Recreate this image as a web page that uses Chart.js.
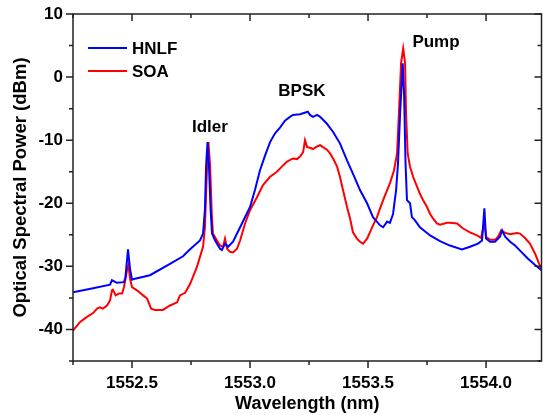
<!DOCTYPE html>
<html>
<head>
<meta charset="utf-8">
<script src="https://cdn.jsdelivr.net/npm/chart.js@4/dist/chart.umd.min.js"></script>
<style>
  html, body { margin: 0; padding: 0; background: #fff; }
  #wrap { width: 543px; height: 415px; }
</style>
</head>
<body>
<div id="wrap"><canvas id="chart" width="543" height="415"></canvas></div>
<script>
// wavelength (nm) / power (dBm)
const hnlfWavelength = [
  1552.250, 1552.330, 1552.407, 1552.415, 1552.436, 1552.466, 1552.472, 1552.483, 1552.492, 1552.500,
  1552.508, 1552.576, 1552.661, 1552.716, 1552.746, 1552.788, 1552.801, 1552.809, 1552.814, 1552.820,
  1552.826, 1552.833, 1552.839, 1552.852, 1552.873, 1552.881, 1552.894, 1552.907, 1552.928, 1552.958,
  1553.000, 1553.021, 1553.042, 1553.064, 1553.085, 1553.106, 1553.127, 1553.148, 1553.169, 1553.182,
  1553.212, 1553.245, 1553.254, 1553.267, 1553.284, 1553.297, 1553.326, 1553.352, 1553.381, 1553.411,
  1553.436, 1553.466, 1553.496, 1553.521, 1553.551, 1553.564, 1553.581, 1553.593, 1553.606, 1553.619,
  1553.627, 1553.636, 1553.647, 1553.653, 1553.659, 1553.665, 1553.678, 1553.686, 1553.699, 1553.720,
  1553.763, 1553.805, 1553.847, 1553.898, 1553.932, 1553.966, 1553.983, 1553.993, 1554.000, 1554.017,
  1554.038, 1554.059, 1554.068, 1554.081, 1554.102, 1554.123, 1554.144, 1554.178, 1554.208, 1554.235
];
const hnlfPower = [
  -34.1, -33.5, -32.9, -32.2, -32.6, -32.5, -31.8, -27.3, -30.5, -32.1,
  -32.0, -31.4, -29.6, -28.4, -27.3, -25.9, -24.8, -21.0, -14.0, -10.3,
  -14.0, -21.0, -24.8, -25.9, -27.2, -27.4, -26.4, -26.9, -26.1, -23.8,
  -20.6, -17.9, -14.8, -12.4, -10.3, -8.9, -8.0, -6.9, -6.3, -6.0,
  -5.9, -5.5, -6.0, -6.3, -6.0, -6.3, -7.4, -8.7, -10.5, -13.2,
  -15.3, -17.9, -20.0, -22.2, -23.5, -23.8, -22.9, -23.1, -21.7, -17.9,
  -13.7, -5.7, 2.2, -3.1, -13.7, -19.5, -20.0, -22.2, -22.7, -23.8,
  -25.1, -26.0, -26.7, -27.3, -26.9, -26.4, -25.9, -20.8, -25.6, -26.1,
  -26.1, -25.3, -24.3, -25.3, -26.1, -26.7, -27.5, -28.8, -29.8, -30.6
];

const soaWavelength = [
  1552.250, 1552.280, 1552.309, 1552.335, 1552.352, 1552.364, 1552.377, 1552.394, 1552.407, 1552.415,
  1552.419, 1552.431, 1552.445, 1552.458, 1552.466, 1552.479, 1552.485, 1552.492, 1552.500, 1552.521,
  1552.547, 1552.564, 1552.581, 1552.597, 1552.631, 1552.661, 1552.691, 1552.703, 1552.725, 1552.746,
  1552.775, 1552.788, 1552.801, 1552.809, 1552.818, 1552.824, 1552.831, 1552.838, 1552.843, 1552.860,
  1552.873, 1552.886, 1552.894, 1552.903, 1552.915, 1552.928, 1552.945, 1552.958, 1552.979, 1553.000,
  1553.030, 1553.055, 1553.085, 1553.114, 1553.140, 1553.157, 1553.182, 1553.199, 1553.212, 1553.225,
  1553.233, 1553.242, 1553.254, 1553.267, 1553.284, 1553.297, 1553.309, 1553.326, 1553.339, 1553.352,
  1553.369, 1553.381, 1553.394, 1553.411, 1553.424, 1553.436, 1553.453, 1553.466, 1553.479, 1553.496,
  1553.508, 1553.521, 1553.538, 1553.551, 1553.564, 1553.581, 1553.593, 1553.610, 1553.623, 1553.631,
  1553.640, 1553.649, 1553.657, 1553.661, 1553.668, 1553.678, 1553.691, 1553.708, 1553.720, 1553.733,
  1553.750, 1553.763, 1553.775, 1553.792, 1553.805, 1553.835, 1553.847, 1553.877, 1553.903, 1553.932,
  1553.962, 1553.979, 1553.993, 1554.000, 1554.017, 1554.038, 1554.051, 1554.064, 1554.081, 1554.102,
  1554.131, 1554.144, 1554.165, 1554.186, 1554.208, 1554.225, 1554.237
];
const soaPower = [
  -40.2, -38.8, -38.0, -37.4, -36.7, -36.5, -36.7, -36.2, -35.4, -33.8,
  -33.7, -34.6, -34.3, -34.3, -33.3, -30.6, -29.8, -32.0, -33.3, -33.8,
  -34.6, -35.1, -36.7, -36.9, -36.9, -36.2, -35.7, -34.6, -34.2, -32.8,
  -30.1, -28.5, -26.9, -23.8, -14.2, -10.3, -14.2, -21.7, -24.8, -25.9,
  -26.7, -26.9, -25.6, -27.2, -27.7, -27.8, -27.2, -25.9, -23.2, -21.1,
  -19.0, -17.1, -15.8, -15.0, -14.0, -13.4, -12.9, -13.0, -12.6, -11.9,
  -10.0, -11.1, -11.2, -11.4, -11.0, -10.8, -11.1, -11.5, -12.1, -12.9,
  -14.2, -15.8, -17.9, -20.6, -22.4, -24.6, -25.6, -26.1, -26.4, -25.6,
  -24.6, -23.5, -22.2, -20.8, -19.5, -17.9, -16.8, -14.8, -12.1, -5.7,
  2.2, 4.55, 2.2, -5.7, -12.1, -14.2, -15.8, -17.4, -18.5, -19.5,
  -20.6, -21.7, -22.4, -23.2, -23.4, -23.1, -23.1, -23.2, -24.0, -24.6,
  -25.1, -25.5, -23.0, -25.3, -25.8, -25.8, -25.3, -24.3, -24.7, -24.9,
  -24.7, -24.8, -25.5, -26.4, -28.0, -29.6, -30.6
];

const xMajorTicks = [1552.5, 1553.0, 1553.5, 1554.0];
const xMinorTicks = [1552.25, 1552.75, 1553.25, 1553.75];
const yMajorTicks = [-40, -30, -20, -10, 0, 10];
const yMinorTicks = [-45, -35, -25, -15, -5, 5];

const peakNames = ['Idler', 'BPSK', 'Pump'];
const peakLabelX = [1552.83, 1553.22, 1553.788];
const peakLabelY = [-7.9, -2.2, 5.5];

const FONT = 'Liberation Sans, Arial, sans-serif';
const AXIS = '#222';

function toPoints(xs, ys) {
  return xs.map((x, i) => ({ x: x, y: ys[i] }));
}

// box, tick marks (out on left/bottom, in on top/right)
const framePlugin = {
  id: 'frame',
  afterDatasetsDraw(chart) {
    const { ctx, chartArea: a, scales } = chart;
    const xs = scales.x, ys = scales.y;
    ctx.save();
    ctx.strokeStyle = AXIS;
    ctx.lineWidth = 1.5;
    ctx.strokeRect(a.left, a.top, a.right - a.left, a.bottom - a.top);
    ctx.beginPath();
    const tx = (v, len) => {
      const p = xs.getPixelForValue(v);
      ctx.moveTo(p, a.bottom); ctx.lineTo(p, a.bottom + len);
      ctx.moveTo(p, a.top); ctx.lineTo(p, a.top + len);
    };
    const ty = (v, len) => {
      const p = ys.getPixelForValue(v);
      ctx.moveTo(a.left, p); ctx.lineTo(a.left - len, p);
      ctx.moveTo(a.right, p); ctx.lineTo(a.right - len, p);
    };
    xMajorTicks.forEach(v => tx(v, 7));
    xMinorTicks.forEach(v => tx(v, 4));
    yMajorTicks.forEach(v => ty(v, 7));
    yMinorTicks.forEach(v => ty(v, 4));
    ctx.stroke();

    // legend inside the plot
    ctx.font = 'bold 17px ' + FONT;
    ctx.textBaseline = 'middle';
    ctx.fillStyle = '#000';
    chart.data.datasets.forEach((ds, i) => {
      const y = a.top + 34 + i * 23;
      ctx.strokeStyle = ds.borderColor;
      ctx.lineWidth = 2;
      ctx.beginPath();
      ctx.moveTo(a.left + 15, y);
      ctx.lineTo(a.left + 54, y);
      ctx.stroke();
      ctx.fillText(ds.label, a.left + 59, y + 1);
    });

    // peak names
    ctx.textAlign = 'center';
    peakNames.forEach((t, i) => {
      ctx.fillText(t, xs.getPixelForValue(peakLabelX[i]), ys.getPixelForValue(peakLabelY[i]));
    });
    ctx.restore();
  }
};

new Chart(document.getElementById('chart'), {
  type: 'line',
  data: {
    datasets: [
      {
        label: 'HNLF',
        data: toPoints(hnlfWavelength, hnlfPower),
        borderColor: '#0000ff',
        borderWidth: 2,
        pointRadius: 0,
        tension: 0,
        fill: false
      },
      {
        label: 'SOA',
        data: toPoints(soaWavelength, soaPower),
        borderColor: '#ff0000',
        borderWidth: 2,
        pointRadius: 0,
        tension: 0,
        fill: false
      }
    ]
  },
  options: {
    responsive: false,
    animation: false,
    events: [],
    layout: { padding: { top: 14, right: 1.5, left: 0, bottom: 0 } },
    plugins: { legend: { display: false }, tooltip: { enabled: false } },
    scales: {
      x: {
        type: 'linear',
        min: 1552.25,
        max: 1554.235,
        afterFit(s) { s.height = 54; s.paddingLeft = 0; s.paddingRight = 0; },
        afterBuildTicks(s) { s.ticks = xMajorTicks.map(v => ({ value: v })); },
        grid: { display: false, drawTicks: false },
        border: { display: false },
        ticks: {
          padding: 12,
          color: '#000',
          font: { family: FONT, size: 17, weight: 'bold' },
          callback: v => v.toFixed(1)
        },
        title: {
          display: true,
          text: 'Wavelength (nm)',
          color: '#000',
          font: { family: FONT, size: 18, weight: 'bold' },
          padding: { top: 0, bottom: 0 }
        }
      },
      y: {
        min: -45,
        max: 10,
        afterFit(s) { s.width = 73; s.paddingTop = 0; s.paddingBottom = 0; },
        afterBuildTicks(s) { s.ticks = yMajorTicks.map(v => ({ value: v })); },
        grid: { display: false, drawTicks: false },
        border: { display: false },
        ticks: {
          padding: 10,
          color: '#000',
          font: { family: FONT, size: 17, weight: 'bold' },
          callback: v => String(v)
        },
        title: {
          display: true,
          text: 'Optical Spectral Power (dBm)',
          color: '#000',
          font: { family: FONT, size: 18.5, weight: 'bold' },
          padding: { top: 10, bottom: 0 }
        }
      }
    }
  },
  plugins: [framePlugin]
});
</script>
</body>
</html>
